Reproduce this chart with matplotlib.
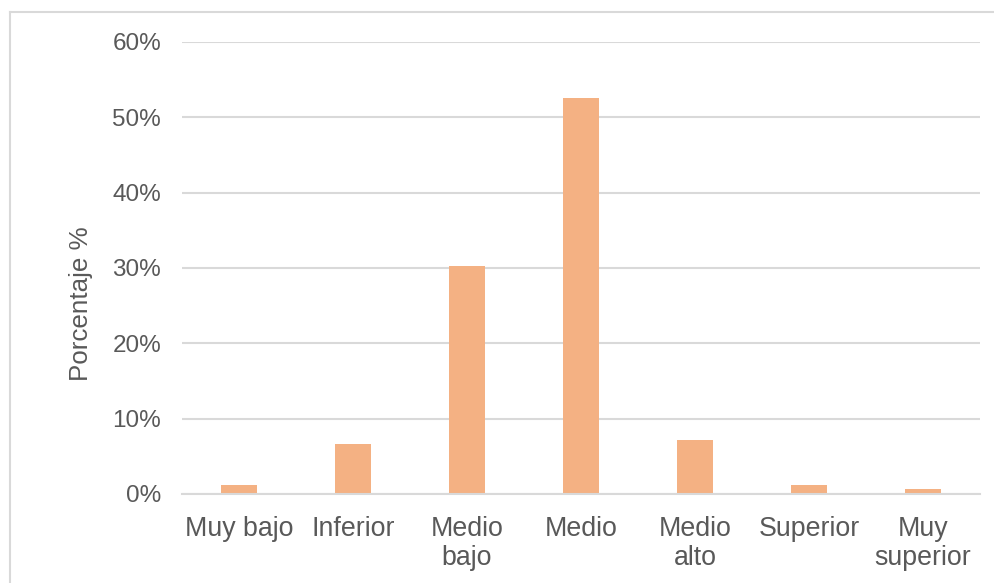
import matplotlib
matplotlib.use('Agg')
from matplotlib import pyplot as plt
from matplotlib.lines import Line2D
from matplotlib.ticker import PercentFormatter

categorias = ['Muy bajo', 'Inferior', 'Medio\nbajo', 'Medio', 'Medio\nalto', 'Superior', 'Muy\nsuperior']
porcentajes = [1.2, 6.6, 30.3, 52.6, 7.2, 1.2, 0.6]
yticks = [0, 10, 20, 30, 40, 50, 60]

plt.rcParams['font.family'] = ['Liberation Sans', 'DejaVu Sans']
gris_texto = '#595959'
gris_linea = '#d9d9d9'

fig = plt.figure(figsize=(9.95, 5.83), dpi=100)
ax = fig.add_axes([182 / 995, 1 - 494 / 583, 798 / 995, 452 / 583])

x = range(len(categorias))
ax.bar(x, porcentajes, width=0.315, color='#F4B183', zorder=3)

ax.set_xlim(-0.5, len(categorias) - 0.5)
ax.set_ylim(0, 60)
ax.set_yticks(yticks)
ax.yaxis.set_major_formatter(PercentFormatter(decimals=0))
ax.set_xticks(list(x))
ax.set_xticklabels(categorias, linespacing=1.15)

ax.grid(axis='y', color=gris_linea, linewidth=1.5, zorder=0)
for lado in ['top', 'right', 'left']:
    ax.spines[lado].set_visible(False)
ax.spines['bottom'].set_color(gris_linea)
ax.spines['bottom'].set_linewidth(1.5)
ax.spines['bottom'].set_zorder(4)

ax.tick_params(axis='y', length=0, pad=15, labelsize=17.5, labelcolor=gris_texto)
ax.tick_params(axis='x', length=0, pad=16, labelsize=19.3, labelcolor=gris_texto)
ax.set_ylabel('Porcentaje %', fontsize=18.7, color=gris_texto)
ax.yaxis.set_label_coords(-0.111, 0.42)

# marco del gráfico (solo se ven los bordes izquierdo y superior)
fig.add_artist(Line2D([10 / 995, 10 / 995], [0, 1 - 12 / 583], color=gris_linea, linewidth=1.5))
fig.add_artist(Line2D([10 / 995, 1], [1 - 12 / 583, 1 - 12 / 583], color=gris_linea, linewidth=1.5))

fig.savefig('out.png', dpi=100)
